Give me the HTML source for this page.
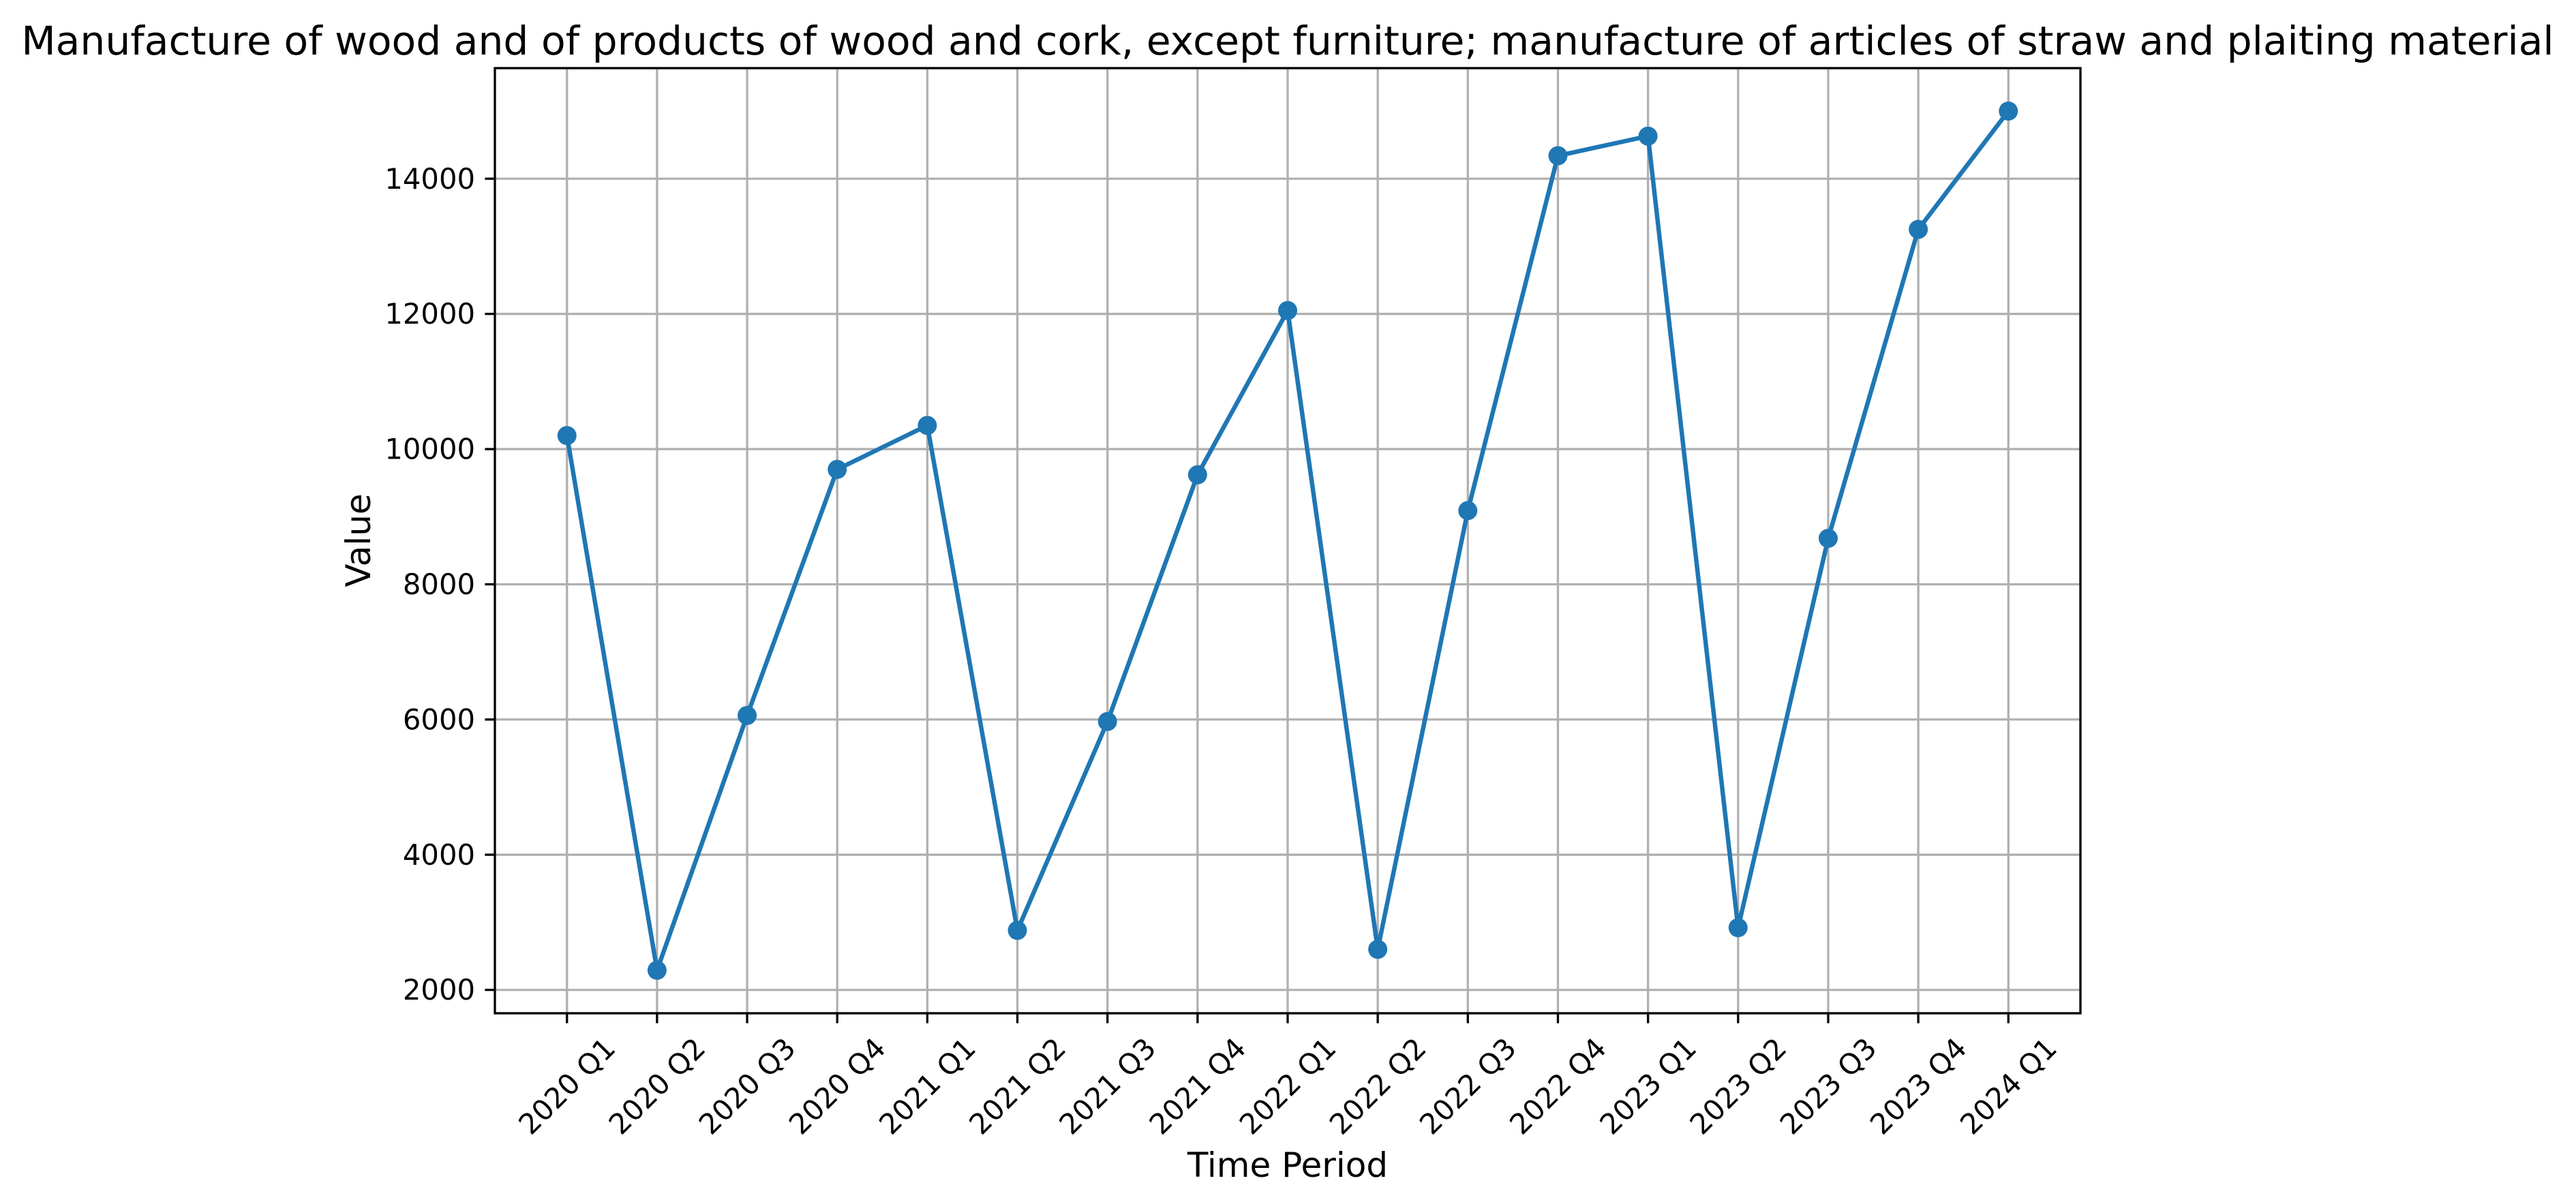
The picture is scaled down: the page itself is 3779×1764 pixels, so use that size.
<!DOCTYPE html>
<html><head><meta charset="utf-8"><style>
html,body{margin:0;padding:0;background:#fff}
svg{display:block;font-family:"DejaVu Sans","Liberation Sans",sans-serif}
</style></head><body>
<svg id="chart" width="3779" height="1764" viewBox="0 0 3779 1764" xmlns="http://www.w3.org/2000/svg">
<rect width="3779" height="1764" fill="#fff"/>
<text x="1889" y="80" text-anchor="middle" font-size="58.3" fill="#000">Manufacture of wood and of products of wood and cork, except furniture; manufacture of articles of straw and plaiting material</text>
<g id="grid"></g>
<g id="series"></g>
<rect x="726" y="100" width="2326" height="1387" fill="none" stroke="#000" stroke-width="3.3"/>
<g id="axes"></g>
<text x="0" y="0" transform="translate(543,793) rotate(-90)" text-anchor="middle" font-size="50" fill="#000">Value</text>
<text x="1889" y="1727" text-anchor="middle" font-size="50" fill="#000">Time Period</text>
</svg>
<script>
const categories = ["2020 Q1","2020 Q2","2020 Q3","2020 Q4","2021 Q1","2021 Q2","2021 Q3","2021 Q4","2022 Q1","2022 Q2","2022 Q3","2022 Q4","2023 Q1","2023 Q2","2023 Q3","2023 Q4","2024 Q1"];
const values = [10200,2290,6060,9700,10350,2880,5970,9620,12050,2600,9090,14340,14630,2920,8680,13250,15000];
const yTicks = [2000,4000,6000,8000,10000,12000,14000];

const NS="http://www.w3.org/2000/svg";
const L=726,R=3052,T=100,B=1487;
const n=categories.length;
const xPad=(n-1)*0.05;
function xs(i){return L+(i+xPad)/(n-1+2*xPad)*(R-L);}
const vmin=Math.min(...values),vmax=Math.max(...values),vr=vmax-vmin;
const y0=vmin-vr*0.05,y1=vmax+vr*0.05;
function ys(v){return B-(v-y0)/(y1-y0)*(B-T);}
function mk(tag,attrs,parent){const e=document.createElementNS(NS,tag);for(const k in attrs)e.setAttribute(k,attrs[k]);parent.appendChild(e);return e;}
const grid=document.getElementById('grid'),axes=document.getElementById('axes'),series=document.getElementById('series');

yTicks.forEach(t=>{
  const y=ys(t);
  const g=mk('line',{x1:L,x2:R,y1:y,y2:y,stroke:'#b0b0b0','stroke-width':3.3},grid);
  
  
  const tk=mk('line',{x1:L-14.6,x2:L,y1:y,y2:y,stroke:'#000','stroke-width':3.3},axes);
  
  
  const tx=mk('text',{x:L-29,y:y,'text-anchor':'end','dominant-baseline':'central','font-size':41.7,fill:'#000'},axes);
  tx.textContent=t;
  
  
});
categories.forEach((c,i)=>{
  const x=xs(i);
  const g=mk('line',{x1:x,x2:x,y1:T,y2:B,stroke:'#b0b0b0','stroke-width':3.3},grid);
  
  
  const tk=mk('line',{x1:x,x2:x,y1:B,y2:B+14.6,stroke:'#000','stroke-width':3.3},axes);
  
  
  const tx=mk('text',{x:0,y:0,'text-anchor':'middle','dominant-baseline':'central','font-size':41.7,fill:'#000'},axes);
  tx.textContent=c;
  
  
  const w=tx.getComputedTextLength()||150, h=41.7;
  const bh=(w+h)*Math.SQRT1_2;
  tx.setAttribute('transform','translate('+x+','+(B+29+bh/2)+') rotate(-45)');
});
const pts=values.map((v,i)=>xs(i)+','+ys(v)).join(' ');
const pl=mk('polyline',{points:pts,fill:'none',stroke:'#1f77b4','stroke-width':6.5,'stroke-linejoin':'round'},series);


values.forEach((v,i)=>{
  const c=mk('circle',{cx:xs(i),cy:ys(v),r:14,fill:'#1f77b4'},series);
  
  
});
</script>
</body></html>
